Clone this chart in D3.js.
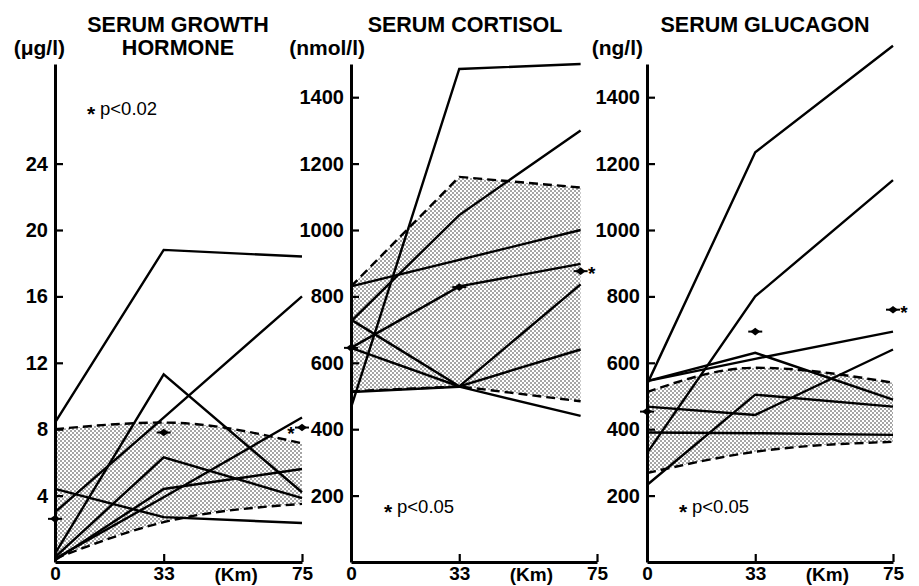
<!DOCTYPE html>
<html>
<head>
<meta charset="utf-8">
<script src="https://d3js.org/d3.v7.min.js"></script>
<style>
    body { margin: 0; background: #fff; }
    svg { display: block; }
</style>
</head>
<body>
<script>
// Distances (km) at which blood was sampled
var distances = [0, 33, 75];
var cortisolDistances = [0, 33, 70];
var kmLabelAt = 55;

// SERUM GROWTH HORMONE (ug/l)
var ghTitle = ["SERUM GROWTH", "HORMONE"];
var ghUnit = "(\u03bcg/l)";
var ghTicks = [4, 8, 12, 16, 20, 24];
var ghSubjects = [
    [8.4, 18.8, 18.4],
    [3.0, 8.7, 16.0],
    [0.5, 11.3, 4.2],
    [0.3, 6.3, 3.85],
    [0.2, 3.9, 8.7],
    [0.1, 4.4, 5.6],
    [4.4, 2.7, 2.35]
];
var ghUpper = [8.0, 8.4, 7.15];
var ghLower = [0.2, 2.4, 3.5];
var ghMean = [2.6, 7.8, 8.1];
var ghNote = "p<0.02";

// SERUM CORTISOL (nmol/l)
var cortTitle = ["SERUM CORTISOL"];
var cortUnit = "(nmol/l)";
var cortTicks = [200, 400, 600, 800, 1000, 1200, 1400];
var cortSubjects = [
    [465, 1485, 1500],
    [830, 910, 1000],
    [725, 1045, 1300],
    [645, 830, 898],
    [730, 529, 836],
    [645, 529, 640],
    [512, 528, 440]
];
var cortUpper = [830, 1160, 1128];
var cortLower = [514, 529, 484];
var cortMean = [645, 828, 876];
var cortNote = "p<0.05";

// SERUM GLUCAGON (ng/l)
var glucTitle = ["SERUM GLUCAGON"];
var glucUnit = "(ng/l)";
var glucTicks = [200, 400, 600, 800, 1000, 1200, 1400];
var glucSubjects = [
    [535, 1234, 1555],
    [328, 800, 1150],
    [545, 630, 489],
    [545, 612, 694],
    [468, 443, 640],
    [232, 504, 468],
    [390, 388, 383]
];
var glucUpper = [512, 585, 540];
var glucLower = [268, 332, 362];
var glucMean = [453, 694, 760];
var glucNote = "p<0.05";

var FONT = "'Liberation Sans', Arial, Helvetica, sans-serif";
var _width = 919;
var _height = 586;
var _baseY = 562;
var _topY = 64;

var svg = d3.select("body").append("svg")
    .attr("width", _width)
    .attr("height", _height)
    .style("font-family", FONT);

// halftone dots for the shaded range
var pattern = svg.append("defs").append("pattern")
    .attr("id", "dots")
    .attr("patternUnits", "userSpaceOnUse")
    .attr("width", 4)
    .attr("height", 4);
pattern.append("rect").attr("width", 4).attr("height", 4).attr("fill", "#fff");
pattern.selectAll("circle")
    .data([[1, 1], [3, 3]])
    .enter().append("circle")
        .attr("cx", function(d) { return d[0]; })
        .attr("cy", function(d) { return d[1]; })
        .attr("r", 0.8)
        .attr("fill", "#333");

var panels = [
    { title: ghTitle, titleX: 178, unit: ghUnit, unitX: 65, ticks: ghTicks, max: 30,
      left: 55, right: 302, dist: distances, subjects: ghSubjects, upper: ghUpper, lower: ghLower,
      curve: d3.curveMonotoneX,
      mean: ghMean, starSide: -1, note: ghNote, noteX: 87, noteY: 115 },
    { title: cortTitle, titleX: 465, unit: cortUnit, unitX: 365, ticks: cortTicks, max: 1500,
      left: 351, right: 597, dist: cortisolDistances, subjects: cortSubjects, upper: cortUpper, lower: cortLower,
      curve: d3.curveLinear,
      mean: cortMean, starSide: 1, note: cortNote, noteX: 384, noteY: 513 },
    { title: glucTitle, titleX: 765, unit: glucUnit, unitX: 643, ticks: glucTicks, max: 1500,
      left: 647, right: 893, dist: distances, subjects: glucSubjects, upper: glucUpper, lower: glucLower,
      curve: d3.curveMonotoneX,
      mean: glucMean, starSide: 1, note: glucNote, noteX: 679, noteY: 513 }
];

var drawPanel = function(p) {
    var g = svg.append("g");

    var x = d3.scaleLinear().domain([0, 75]).range([p.left, p.right]);
    var y = d3.scaleLinear().domain([0, p.max]).range([_baseY, _topY]);

    var band = d3.area()
        .curve(p.curve)
        .x(function(d, i) { return x(p.dist[i]); })
        .y0(function(d, i) { return y(p.lower[i]); })
        .y1(function(d) { return y(d); });

    var smooth = d3.line()
        .curve(p.curve)
        .x(function(d, i) { return x(p.dist[i]); })
        .y(function(d) { return y(d); });

    var straight = d3.line()
        .x(function(d, i) { return x(p.dist[i]); })
        .y(function(d) { return y(d); });

    // shaded range
    g.append("path")
        .attr("d", band(p.upper))
        .attr("fill", "url(#dots)");

    g.selectAll(".edge")
        .data([p.upper, p.lower])
        .enter().append("path")
            .classed("edge", true)
            .attr("d", smooth)
            .attr("fill", "none")
            .attr("stroke", "#000")
            .attr("stroke-width", 2.4)
            .attr("stroke-dasharray", "9,5");

    // individual runners
    g.selectAll(".subject")
        .data(p.subjects)
        .enter().append("path")
            .classed("subject", true)
            .attr("d", straight)
            .attr("fill", "none")
            .attr("stroke", "#000")
            .attr("stroke-width", 2.4)
            .attr("stroke-linejoin", "miter");

    // mean markers
    var marks = g.selectAll(".mean")
        .data(p.mean)
        .enter().append("g")
            .classed("mean", true)
            .attr("transform", function(d, i) {
                return "translate(" + x(p.dist[i]) + "," + y(d) + ")";
            });

    marks.append("line")
        .attr("x1", -7).attr("x2", 7)
        .attr("stroke", "#000")
        .attr("stroke-width", 2);

    marks.append("path")
        .attr("d", "M-5,0L0,-3.8L5,0L0,3.8Z")
        .attr("fill", "#000");

    var last = p.mean.length - 1;
    g.append("text")
        .attr("x", x(p.dist[last]) + p.starSide * 11)
        .attr("y", y(p.mean[last]) + (p.starSide < 0 ? 12 : 9))
        .attr("text-anchor", "middle")
        .style("font-size", "19px")
        .style("font-weight", "bold")
        .text("*");

    // axes
    var yAxis = d3.axisLeft(y)
        .tickValues(p.ticks)
        .tickSizeInner(-8)
        .tickSizeOuter(0)
        .tickPadding(7)
        .tickFormat(d3.format("d"));

    var gy = g.append("g")
        .attr("transform", "translate(" + p.left + ",0)")
        .call(yAxis);

    var xAxis = d3.axisBottom(x)
        .tickValues([0, 33, 75])
        .tickSizeInner(-8)
        .tickSizeOuter(0)
        .tickPadding(5);

    var gx = g.append("g")
        .attr("transform", "translate(0," + _baseY + ")")
        .call(xAxis);

    [gy, gx].forEach(function(ax) {
        ax.select(".domain").attr("stroke-width", 3).attr("stroke", "#000");
        ax.selectAll(".tick line").attr("stroke-width", 2.2).attr("stroke", "#000");
        ax.selectAll(".tick text")
            .attr("fill", "#000")
            .style("font-family", FONT)
            .style("font-size", "20px")
            .style("font-weight", "bold");
    });
    gx.selectAll(".tick text").style("font-size", "19px");

    g.append("text")
        .attr("x", x(kmLabelAt))
        .attr("y", 581)
        .attr("text-anchor", "middle")
        .style("font-size", "19px")
        .style("font-weight", "bold")
        .text("(Km)");

    // titles and units
    g.selectAll(".title")
        .data(p.title)
        .enter().append("text")
            .classed("title", true)
            .attr("x", p.titleX)
            .attr("y", function(d, i) { return 32 + i * 23; })
            .attr("text-anchor", "middle")
            .style("font-size", "21.5px")
            .style("font-weight", "bold")
            .text(function(d) { return d; });

    g.append("text")
        .attr("x", p.unitX)
        .attr("y", 55)
        .attr("text-anchor", "end")
        .style("font-size", "21px")
        .style("font-weight", "bold")
        .text(p.unit);

    // significance note
    g.append("text")
        .attr("x", p.noteX)
        .attr("y", p.noteY + 6)
        .style("font-size", "21px")
        .style("font-weight", "bold")
        .text("*");

    g.append("text")
        .attr("x", p.noteX + 13)
        .attr("y", p.noteY)
        .style("font-size", "18.5px")
        .text(p.note);
};

panels.forEach(drawPanel);
</script>
</body>
</html>
